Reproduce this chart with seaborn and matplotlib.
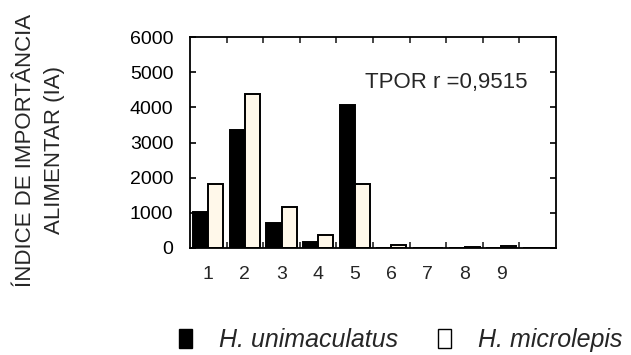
import numpy as np
import pandas as pd
import matplotlib
matplotlib.use("Agg")
import matplotlib.pyplot as plt
import seaborn as sns
from matplotlib.patches import Patch

categories = ["1", "2", "3", "4", "5", "6", "7", "8", "9", ""]
h_unimaculatus = [1030, 3355, 700, 160, 4065, 5, 10, 0, 5, 0]
h_microlepis = [1830, 4370, 1155, 370, 1820, 85, 8, 15, 45, 0]
species = ["H. unimaculatus", "H. microlepis"]

df = pd.DataFrame({
    "cat": categories * 2,
    "val": h_unimaculatus + h_microlepis,
    "sp": [species[0]] * len(categories) + [species[1]] * len(categories),
})

sns.set_style("white")
plt.rcParams["font.family"] = ["Liberation Sans", "DejaVu Sans"]

fig = plt.figure(figsize=(6.31, 3.55), dpi=100)
ax = fig.add_axes([190 / 631, 1 - 248 / 355, 366 / 631, 211 / 355])

palette = {species[0]: "#000000", species[1]: "#FFF8EA"}
sns.barplot(data=df, x="cat", y="val", hue="sp", palette=palette, ax=ax,
            width=0.82, edgecolor="black", linewidth=1.4, legend=False,
            errorbar=None, saturation=1)

ax.set_xlim(-0.5, 9.5)
ax.set_ylim(0, 6000)
ax.set_yticks(range(0, 6001, 1000))
ax.set_xlabel("")
ax.set_ylabel("")

for s in ax.spines.values():
    s.set_visible(True)
    s.set_color("black")
    s.set_linewidth(1.3)

ax.tick_params(axis="y", which="major", direction="in", left=True, right=True,
               length=4, width=1.2, labelsize=14, pad=12, colors="black")
ax.tick_params(axis="x", which="major", length=0, labelsize=14, pad=13)
ax.set_xticks(np.arange(0.5, 9.0, 1.0), minor=True)
ax.tick_params(axis="x", which="minor", direction="in", top=True, bottom=True,
               length=4, width=1.2)

ax.text(4.28, 4720, "TPOR r =0,9515", fontsize=16, va="center", ha="left")

fig.text(40 / 631, 1 - 150 / 355, "ÍNDICE DE IMPORTÂNCIA\nALIMENTAR (IA)",
         rotation=90, ha="center", va="center", multialignment="center",
         fontsize=16, linespacing=1.5)

handles = [Patch(facecolor="black", edgecolor="black"),
           Patch(facecolor="white", edgecolor="black", linewidth=1.0)]
fig.legend(handles, species, loc="center left", bbox_to_anchor=(169 / 631, 15 / 355),
           ncol=2, frameon=False, prop={"style": "italic", "size": 18},
           handlelength=0.5, handleheight=0.8, handletextpad=1.1,
           columnspacing=1.6, borderaxespad=0.0)

fig.savefig("out.png", dpi=100)
